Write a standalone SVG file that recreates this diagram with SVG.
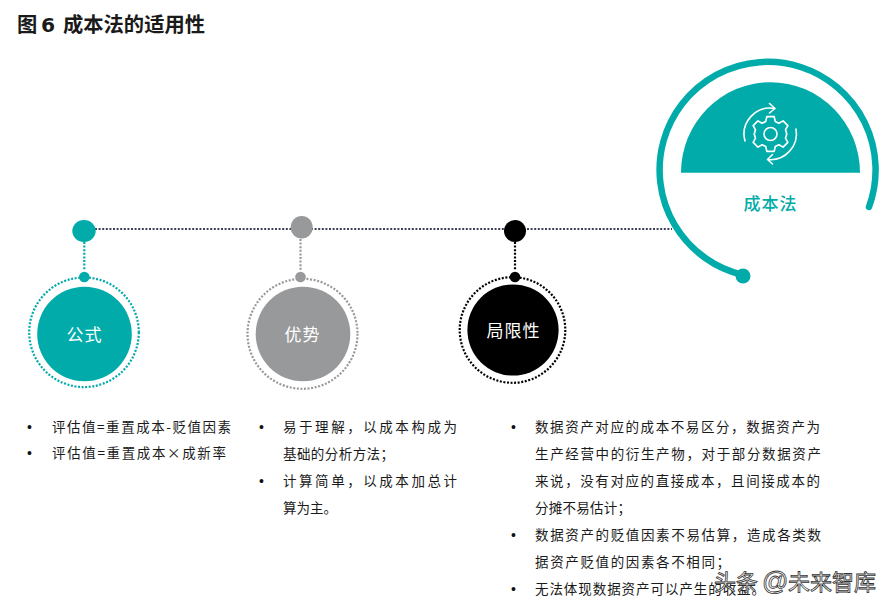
<svg xmlns="http://www.w3.org/2000/svg" width="894" height="612" viewBox="0 0 894 612">
<style>
text{font-family:"Noto Sans CJK SC","Noto Sans",sans-serif}
.t{font-size:13.5px;fill:#1a1a1a}
.b{font-family:"Liberation Sans",sans-serif;font-size:14px;fill:#111}
.lab{font-size:17px;fill:#fff;text-anchor:middle;letter-spacing:1px}
.ring{fill:none;stroke-width:2.2;stroke-dasharray:2 1.6}
.stem{fill:none;stroke-width:2.2;stroke-dasharray:2 1.6}
.teal{fill:#00abaa}.grey{fill:#98999b}.blk{fill:#000}
.ic{fill:none;stroke:#fff;stroke-width:1.6;stroke-linecap:round;stroke-linejoin:round}
</style>
<rect width="894" height="612" fill="#fff"/>
<text id="title" y="32" font-size="20.300" font-weight="700" fill="#1a1a1a"><tspan x="17">图</tspan><tspan x="41" style="font-family:'DejaVu Sans',sans-serif">6</tspan><tspan x="63">成本法的适用性</tspan></text>
<g id="connectors">
<path d="M95 229H672" fill="none" stroke="#3c4158" stroke-width="2.200" stroke-dasharray="2 1.600"/>
<path class="stem" stroke="#00abaa" d="M84.300 242V270"/>
<path class="stem" stroke="#98999b" d="M300.500 239V270"/>
<path class="stem" stroke="#000" d="M515 242V270"/>
</g>
<g id="node-formula">
<ellipse class="teal" cx="84" cy="231" rx="11.700" ry="11"/>
<circle class="ring" stroke="#00abaa" cx="84" cy="332.300" r="54.800"/>
<circle class="teal" cx="84.300" cy="277" r="5.300"/>
<circle class="teal" cx="84.500" cy="334" r="47.300"/>
<text class="lab" x="84.500" y="341">公式</text>
</g>
<g id="node-advantage">
<ellipse class="grey" cx="301.700" cy="227.300" rx="11" ry="11.300"/>
<circle class="ring" stroke="#98999b" cx="302.500" cy="333.800" r="55"/>
<circle class="grey" cx="300.500" cy="277" r="5.300"/>
<circle class="grey" cx="303" cy="334" r="47.300"/>
<text class="lab" x="302.500" y="341">优势</text>
</g>
<g id="node-limit">
<circle class="blk" cx="515" cy="231" r="11"/>
<circle class="ring" stroke="#000" cx="512.500" cy="330" r="52.800"/>
<circle class="blk" cx="515" cy="277" r="5.300"/>
<circle class="blk" cx="513" cy="330" r="45.600"/>
<text class="lab" x="513.500" y="337">局限性</text>
</g>
<g id="node-cost">
<path d="M743 275A108 108 0 1 1 869 207" fill="none" stroke="#00abaa" stroke-width="6.500" stroke-linecap="round"/>
<circle class="teal" cx="743" cy="276" r="7.500"/>
<path class="teal" d="M681 172.700A89.500 90.500 0 0 1 860 172.700Z"/>
<g transform="translate(770.500 134)">
<circle class="ic" r="6.500"/>
<path class="ic" d="M-3.500-16.500H3.500L4.500-12 8-10.300 12-12.500 16.500-8 14.300-4 15.500 0 14.300 4 16.500 8 12 12.500 8 10.300 4.500 12 3.500 16.500H-3.500L-4.500 12-8 10.300-12 12.500-16.500 8-14.300 4-15.500 0-14.300-4-16.500-8-12-12.500-8-10.300-4.500-12Z" transform="scale(1.050)"/>
<path class="ic" d="M-25.500 7A26 26 0 0 1 4-25.500M-1-30.500 4.500-25.500-1-21"/>
<path class="ic" d="M25.500-5A26 26 0 0 1-3 25.500M2 20.500-3 25.500 2 30"/>
</g>
<text x="770.500" y="210" font-size="17" font-weight="500" fill="#00abaa" text-anchor="middle" letter-spacing="1">成本法</text>
</g>
<g id="text-formula">
<text class="b" x="27" y="432">•</text><text class="t" x="52" y="432" textLength="179">评估值=重置成本-贬值因素</text>
<text class="b" x="27" y="458">•</text><text class="t" x="52" y="458" textLength="174">评估值=重置成本×成新率</text>
</g>
<g id="text-advantage">
<text class="b" x="259" y="432">•</text><text class="t" x="283" y="432" textLength="174">易于理解，以成本构成为</text>
<text class="t" x="283" y="459" textLength="111">基础的分析方法；</text>
<text class="b" x="259" y="486">•</text><text class="t" x="283" y="486" textLength="174">计算简单，以成本加总计</text>
<text class="t" x="283" y="513" textLength="54">算为主。</text>
</g>
<g id="text-limit">
<text class="b" x="511" y="432">•</text><text class="t" x="535" y="432" textLength="285">数据资产对应的成本不易区分，数据资产为</text>
<text class="t" x="535" y="459" textLength="286">生产经营中的衍生产物，对于部分数据资产</text>
<text class="t" x="535" y="486" textLength="285">来说，没有对应的直接成本，且间接成本的</text>
<text class="t" x="535" y="513" textLength="96">分摊不易估计；</text>
<text class="b" x="511" y="540">•</text><text class="t" x="535" y="540" textLength="286">数据资产的贬值因素不易估算，造成各类数</text>
<text class="t" x="535" y="567" textLength="195">据资产贬值的因素各不相同；</text>
<text class="b" x="511" y="594">•</text><text class="t" x="535" y="594" textLength="230">无法体现数据资产可以产生的收益。</text>
</g>
<text id="watermark" y="590" font-size="22" fill="#fff" stroke="#333" stroke-width="0.800"><tspan x="714">头条</tspan><tspan x="762" style="font-family:'Liberation Sans',sans-serif" font-size="26">@</tspan><tspan x="788">未来智库</tspan></text>
</svg>
